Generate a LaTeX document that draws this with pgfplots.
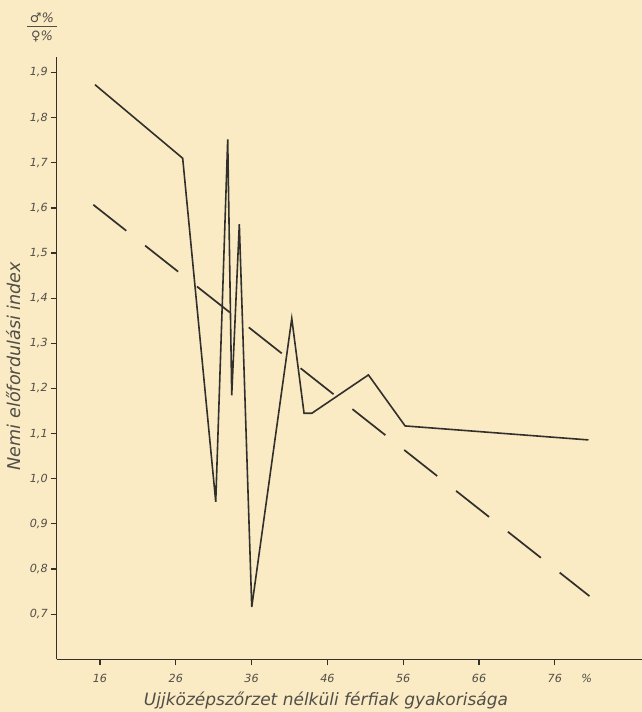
\documentclass[border=0pt]{standalone}
\usepackage{pgfplots}
\pgfplotsset{compat=1.18}
\usepackage{fontspec}
\setmainfont{DejaVu Sans}
\definecolor{paper}{RGB}{250,235,196}
\definecolor{ink}{RGB}{50,48,44}
\definecolor{txt}{RGB}{80,78,72}
\begin{document}
\begin{tikzpicture}
\useasboundingbox (0,0) rectangle (321pt,356pt);
\fill[paper] (0,0) rectangle (321pt,356pt);
\node[txt,font=\fontsize{6.5}{7}\selectfont\itshape,inner sep=0pt] at (21pt,341.5pt)
  {\begin{tabular}{@{\hspace{1.5pt}}c@{\hspace{1.5pt}}}♂\%\\[-0.5pt]\hline\rule{0pt}{7pt}♀\%\end{tabular}};
\begin{axis}[
  at={(28.35pt,26.35pt)}, anchor=south west,
  scale only axis, width=292.65pt, height=301.3pt,
  xmin=10.29, xmax=87.5, ymin=0.6, ymax=1.935,
  axis lines=left, axis line style={-, ink, line width=0.7pt},
  tick align=outside, major tick length=3pt,
  tick style={ink, line width=0.6pt},
  xtick={16,26,36,46,56,66,76},
  xticklabels={16,26,36,46,56,66,76},
  ytick={0.7,0.8,0.9,1.0,1.1,1.2,1.3,1.4,1.5,1.6,1.7,1.8,1.9},
  yticklabels={{0,7},{0,8},{0,9},{1,0},{1,1},{1,2},{1,3},{1,4},{1,5},{1,6},{1,7},{1,8},{1,9}},
  tick label style={txt, font=\fontsize{5.6}{7}\selectfont\itshape},
  xticklabel style={anchor=base, yshift=-8.5pt},
  yticklabel style={anchor=east, xshift=2pt},
  xlabel={Ujjközépszőrzet nélküli férfiak gyakorisága},
  ylabel={Nemi előfordulási index},
  label style={txt, font=\fontsize{8.5}{10}\selectfont\itshape},
  xlabel style={at={(rel axis cs:0.46,0)}, anchor=center, yshift=-20.35pt},
  ylabel style={at={(rel axis cs:-0.0745,0.4867)}, anchor=center, rotate=0, font=\fontsize{8.8}{10}\selectfont\itshape},
  clip=false,
]
\addplot[ink, line width=0.8pt, line join=miter] coordinates {
  (15.34,1.873) (26.91,1.710) (31.27,0.949) (32.85,1.752) (33.38,1.185)
  (34.38,1.564) (36.02,0.716) (41.30,1.355) (42.92,1.145) (43.94,1.145)
  (51.41,1.230) (56.25,1.117) (80.44,1.086)
};
\addplot[ink, line width=0.85pt, dash pattern=on 21pt off 12pt] coordinates {
  (15.12,1.607) (80.57,0.740)
};
\node[txt, font=\fontsize{5.6}{7}\selectfont\itshape, anchor=base] at (axis cs:80.2,0.6) [yshift=-11.5pt] {\%};
\end{axis}
\end{tikzpicture}
\end{document}
